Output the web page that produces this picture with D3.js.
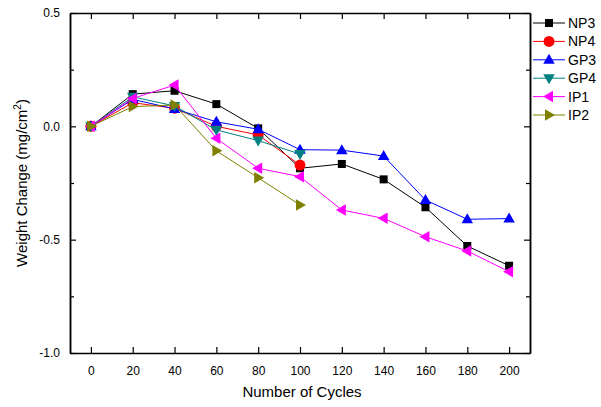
<!DOCTYPE html>
<html>
<head>
<meta charset="utf-8">
<script src="https://cdn.jsdelivr.net/npm/d3@7"></script>
<style>
  html, body { margin: 0; padding: 0; background: #fff; }
  svg { display: block; font-family: "Liberation Sans", Arial, sans-serif; }
</style>
</head>
<body>
<svg id="chart" width="601" height="407"></svg>
<script>
// Cycles at which each sample was weighed
const cycles = [0, 20, 40, 60, 80, 100, 120, 140, 160, 180, 200];

// Weight change (mg/cm^2) per sample
const np3 = [0, 0.142, 0.157, 0.098, -0.009, -0.185, -0.166, -0.234, -0.357, -0.528, -0.615];
const np4 = [0, 0.104, 0.080, 0.000, -0.038, -0.171];
const gp3 = [0, 0.119, 0.077, 0.020, -0.013, -0.103, -0.105, -0.131, -0.325, -0.410, -0.407];
const gp4 = [0, 0.130, 0.090, -0.016, -0.063, -0.122];
const ip1 = [0, 0.123, 0.182, -0.053, -0.185, -0.222, -0.369, -0.406, -0.487, -0.550, -0.641];
const ip2 = [0, 0.087, 0.094, -0.108, -0.227, -0.347];

const seriesNames = ["NP3", "NP4", "GP3", "GP4", "IP1", "IP2"];
const seriesValues = [np3, np4, gp3, gp4, ip1, ip2];
const seriesColors = ["#000000", "#ff0000", "#0000ff", "#008080", "#ff00ff", "#808000"];
const seriesShapes = ["square", "circle", "up", "down", "left", "right"];

const xTicks = [0, 20, 40, 60, 80, 100, 120, 140, 160, 180, 200];
const yTicks = [0.5, 0.0, -0.5, -1.0];
const yTickLabels = ["0.5", "0.0", "-0.5", "-1.0"];
const yMinorTicks = [0.25, -0.25, -0.75];

const svg = d3.select("#chart");
const plotLeft = 70, plotRight = 530, plotTop = 13, plotBottom = 353;

const x = d3.scaleLinear().domain([-10, 210]).range([plotLeft, plotRight]);
const y = d3.scaleLinear().domain([-1.0, 0.5]).range([plotBottom, plotTop]);

// Marker path generators
function markerPath(shape, s) {
  switch (shape) {
    case "square": return `M${-s},${-s}H${s}V${s}H${-s}Z`;
    case "circle": return d3.symbol(d3.symbolCircle, Math.PI * s * s * 1.2)();
    case "up": return `M0,${-s * 1.2}L${s * 1.15},${s * 0.8}L${-s * 1.15},${s * 0.8}Z`;
    case "down": return `M0,${s * 1.2}L${s * 1.15},${-s * 0.8}L${-s * 1.15},${-s * 0.8}Z`;
    case "left": return `M${-s * 1.2},0L${s * 0.8},${-s * 1.15}L${s * 0.8},${s * 1.15}Z`;
    case "right": return `M${s * 1.2},0L${-s * 0.8},${-s * 1.15}L${-s * 0.8},${s * 1.15}Z`;
  }
}
const markerSize = shape => shape === "square" ? 4 : 5;

// Series lines and markers
const line = d3.line().x((d, i) => x(cycles[i])).y(d => y(d));
seriesValues.forEach((vals, k) => {
  const g = svg.append("g");
  g.append("path").datum(vals)
    .attr("d", line)
    .attr("fill", "none")
    .attr("stroke", seriesColors[k])
    .attr("stroke-width", 1);
  g.selectAll("path.m").data(vals).enter().append("path")
    .attr("class", "m")
    .attr("transform", (d, i) => `translate(${x(cycles[i])},${y(d)})`)
    .attr("d", markerPath(seriesShapes[k], markerSize(seriesShapes[k])))
    .attr("fill", seriesColors[k]);
});

// Frame with inward ticks
const axisStyle = sel => {
  sel.select(".domain").attr("stroke", "#000").attr("stroke-width", 1.5);
  sel.selectAll(".tick line").attr("stroke", "#000").attr("stroke-width", 1.2);
  sel.selectAll(".tick text").attr("fill", "#000").attr("font-size", 12)
    .attr("font-family", "'Liberation Sans', Arial, sans-serif");
};

svg.append("g").attr("transform", `translate(0,${plotBottom})`)
  .call(d3.axisBottom(x).tickValues(xTicks).tickFormat(d3.format("d"))
    .tickSizeInner(-6).tickSizeOuter(0).tickPadding(13))
  .call(axisStyle);

svg.append("g").attr("transform", `translate(0,${plotTop})`)
  .call(d3.axisTop(x).tickValues(xTicks).tickFormat("")
    .tickSizeInner(-6).tickSizeOuter(0))
  .call(axisStyle);

svg.append("g").attr("transform", `translate(${plotLeft},0)`)
  .call(d3.axisLeft(y).tickValues(yTicks).tickFormat((d, i) => yTickLabels[i])
    .tickSizeInner(-6).tickSizeOuter(0).tickPadding(10))
  .call(axisStyle);
svg.append("g").attr("transform", `translate(${plotLeft},0)`)
  .call(d3.axisLeft(y).tickValues(yMinorTicks).tickFormat("")
    .tickSizeInner(-4).tickSizeOuter(0))
  .call(axisStyle);

svg.append("g").attr("transform", `translate(${plotRight},0)`)
  .call(d3.axisRight(y).tickValues(yTicks).tickFormat("")
    .tickSizeInner(-6).tickSizeOuter(0))
  .call(axisStyle);
svg.append("g").attr("transform", `translate(${plotRight},0)`)
  .call(d3.axisRight(y).tickValues(yMinorTicks).tickFormat("")
    .tickSizeInner(-4).tickSizeOuter(0))
  .call(axisStyle);

// Axis titles
svg.append("text")
  .attr("x", (plotLeft + plotRight) / 2 + 2).attr("y", 397)
  .attr("text-anchor", "middle").attr("font-size", 15).attr("fill", "#000")
  .text("Number of Cycles");

const yt = svg.append("text")
  .attr("transform", `translate(27,${(plotTop + plotBottom) / 2}) rotate(-90)`)
  .attr("text-anchor", "middle").attr("font-size", 15).attr("fill", "#000");
yt.append("tspan").text("Weight Change (mg/cm");
yt.append("tspan").attr("font-size", 10).attr("dy", -6).text("2");
yt.append("tspan").attr("dy", 6).text(")");

// Legend
const legend = svg.append("g");
seriesNames.forEach((name, k) => {
  const ly = 23 + k * 18.4;
  legend.append("line")
    .attr("x1", 533).attr("x2", 565).attr("y1", ly).attr("y2", ly)
    .attr("stroke", seriesColors[k]).attr("stroke-width", 1);
  legend.append("path")
    .attr("transform", `translate(549,${ly})`)
    .attr("d", markerPath(seriesShapes[k], markerSize(seriesShapes[k])))
    .attr("fill", seriesColors[k]);
  legend.append("text")
    .attr("x", 568).attr("y", ly + 5)
    .attr("font-size", 14).attr("fill", "#000")
    .text(name);
});
</script>
</body>
</html>
